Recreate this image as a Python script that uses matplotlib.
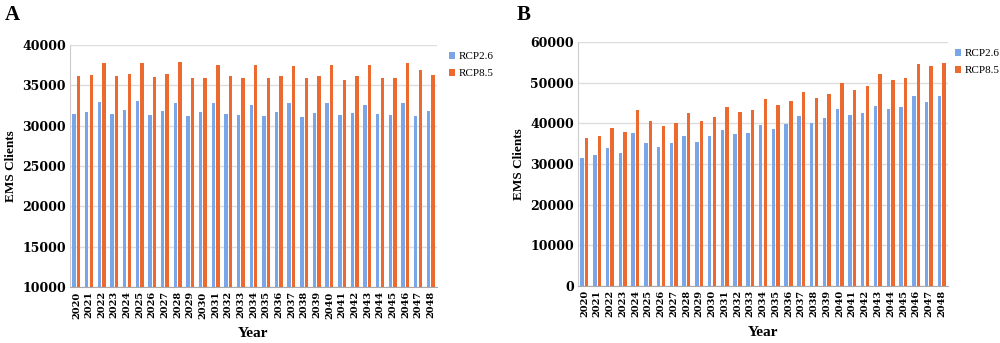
import matplotlib.pyplot as plt
import numpy as np

years = [str(y) for y in range(2020, 2049)]

# Panel A
a_rcp26 = [31450, 31650, 32900, 31500, 32000, 33000, 31350, 31800, 32800, 31250,
           31700, 32750, 31500, 31350, 32600, 31250, 31650, 32850, 31050, 31550,
           32750, 31300, 31550, 32500, 31500, 31300, 32750, 31200, 31800]
a_rcp85 = [36100, 36250, 37700, 36100, 36350, 37750, 36000, 36350, 37850, 35900,
           35950, 37500, 36100, 35950, 37550, 35950, 36150, 37400, 35900, 36150,
           37550, 35700, 36100, 37500, 35950, 35950, 37700, 36850, 36300]

# Panel B
b_rcp26 = [31560, 32200, 33850, 32800, 37700, 35250, 34250, 35100, 36900, 35500,
           36900, 38400, 37400, 37550, 39600, 38500, 39850, 41900, 40000, 41250,
           43450, 42050, 42400, 44250, 43600, 43950, 46650, 45100, 46600]
b_rcp85 = [36300, 36900, 38950, 37800, 43200, 40650, 39350, 40150, 42450, 40650,
           41650, 43950, 42800, 43300, 45900, 44450, 45350, 47700, 46100, 47300,
           50000, 48150, 49100, 52000, 50700, 51200, 54450, 53950, 54800]

series_names = ["RCP2.6", "RCP8.5"]
BLUE = "#7aa6e8"
ORANGE = "#ec6a30"
FONT = "Liberation Serif"
TICKFONT = "DejaVu Serif"

fig = plt.figure(figsize=(10, 3.43), dpi=100)


def draw_panel(rect, label, lab_xy, v26, v85, ylim, yticks, leg_xy):
    ax = fig.add_axes(rect)
    x = np.arange(len(years))
    w = 0.27
    ax.bar(x - 0.18, v26, w, color=BLUE, label=series_names[0], zorder=3)
    ax.bar(x + 0.18, v85, w, color=ORANGE, label=series_names[1], zorder=3)
    ax.set_xlim(-0.5, len(years) - 0.5)
    ax.set_ylim(*ylim)
    ax.set_yticks(yticks)
    ax.set_yticklabels([str(t) for t in yticks], fontfamily=TICKFONT,
                       fontweight="bold", fontsize=9)
    ax.set_xticks(x)
    ax.set_xticklabels(years, rotation=90, fontfamily=TICKFONT,
                       fontweight="bold", fontsize=7)
    ax.tick_params(length=0, pad=3)
    ax.grid(axis="y", color="#dddddd", linewidth=1, zorder=0)
    for s in ["top", "right"]:
        ax.spines[s].set_visible(False)
    ax.spines["left"].set_color("#cccccc")
    ax.spines["bottom"].set_color("#aaaaaa")
    ax.set_ylabel("EMS Clients", fontfamily=FONT, fontweight="bold", fontsize=9.5,
                  labelpad=4)
    ax.set_xlabel("Year", fontfamily=FONT, fontweight="bold", fontsize=11, labelpad=6)
    ax.legend(loc="upper left", bbox_to_anchor=leg_xy, frameon=False,
              prop={"family": FONT, "size": 8}, handlelength=0.6,
              handleheight=0.6, handletextpad=0.3, labelspacing=0.7,
              borderaxespad=0)
    fig.text(lab_xy[0], lab_xy[1], label, fontfamily=FONT, fontweight="bold",
             fontsize=15, va="top")
    return ax


draw_panel([0.070, 0.163, 0.367, 0.706], "A", (0.005, 0.985), a_rcp26, a_rcp85,
           (10000, 40000), list(range(10000, 40001, 5000)), (1.02, 0.99))
draw_panel([0.578, 0.166, 0.370, 0.712], "B", (0.517, 0.985), b_rcp26, b_rcp85,
           (0, 60000), list(range(0, 60001, 10000)), (1.006, 0.99))

fig.savefig("out.png", dpi=100)
